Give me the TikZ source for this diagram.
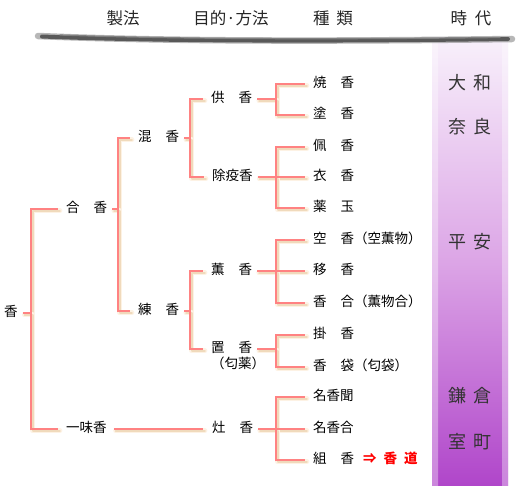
\documentclass[tikz,border=0pt]{standalone}
\usepackage{fontspec}
\newfontfamily\jp{Noto Sans CJK JP}
\usetikzlibrary{calc}
\definecolor{pinkline}{RGB}{255,130,130}
\definecolor{shadowA}{RGB}{253,242,228}
\definecolor{shadowB}{RGB}{240,218,188}
\definecolor{bandtop}{RGB}{248,240,251}
\definecolor{bandmid}{RGB}{220,165,230}
\definecolor{bandbot}{RGB}{176,70,202}
\newcommand\gp{\hspace{14pt}}
\newcommand\branch[4]{\draw[#1] ([xshift=5pt]#2.east) -- (#2.east -| #3) |- ([xshift=-8pt]#4.west);}
\newcommand\alltree[1]{%
  \branch{#1}{root}{b0}{gk}
  \branch{#1}{root}{b0}{ichimi}
  \branch{#1}{gk}{b1}{konko}
  \branch{#1}{gk}{b1}{renko}
  \branch{#1}{konko}{b2}{kuko}
  \branch{#1}{konko}{b2}{joeki}
  \branch{#1}{renko}{b2}{kunko}
  \branch{#1}{renko}{b2}{okiko}
  \draw[#1] ([xshift=7pt]ichimi.east) -- ([xshift=-9pt]shako.west);
  \branch{#1}{kuko}{b3}{shoko}
  \branch{#1}{kuko}{b3}{zuko}
  \branch{#1}{joeki}{b3}{haiko}
  \branch{#1}{joeki}{b3}{eko}
  \branch{#1}{joeki}{b3}{kusu}
  \branch{#1}{kunko}{b3}{soraka}
  \branch{#1}{kunko}{b3}{utsuri}
  \branch{#1}{kunko}{b3}{kogo}
  \branch{#1}{okiko}{b3}{kake}
  \branch{#1}{okiko}{b3}{kobukuro}
  \branch{#1}{shako}{b3}{meikomon}
  \branch{#1}{shako}{b3}{meikogo}
  \branch{#1}{shako}{b3}{kumiko}
}
\begin{document}
\begin{tikzpicture}[x=1pt,y=-1pt,
  lbl/.style={font=\jp\fontsize{13.5}{13.5}\selectfont, anchor=west, inner xsep=0pt, inner ysep=0pt,
    text height=10pt, text depth=3pt, text=black},
  hdr/.style={font=\jp\fontsize{16.5}{16.5}\selectfont, text=black!85},
  era/.style={font=\jp\fontsize{18}{18}\selectfont, text=black!80},
  shadowline/.style={draw=shadowA, line width=5pt, line cap=round, line join=round,
    transform canvas={shift={(1.8pt,-1.8pt)}},
    postaction={draw=shadowB, line width=2pt}},
  treeline/.style={draw=pinkline, line width=1.1pt}]
\useasboundingbox (0,0) rectangle (520,495);
\fill[white] (0,0) rectangle (520,495);
% era band
\shade[top color=bandtop, bottom color=bandbot, middle color=bandmid] (432,38) rectangle (508,485);
\shade[left color=white, right color=bandbot!0, opacity=0.35] (432,38) rectangle (438,485);
\shade[left color=bandbot!0, right color=white, opacity=0.35] (502,38) rectangle (508,485);
% brush stroke
\draw[line width=6.5pt, black!40, line cap=round, opacity=0.7] (38,36) .. controls (180,42) and (360,41) .. (512,39);
\draw[line width=4pt, black!65, line cap=round] (42,36.5) .. controls (180,42) and (360,41) .. (508,39);
\draw[line width=1.2pt, black!50, line cap=round] (60,35) .. controls (200,40) and (380,39) .. (500,37.5);
% header
\node[hdr] (h1) at (123,18) {製法};
\node[hdr] (h2) at (231,18) {目的·方法};
\node[hdr] (h3) at (333,18) {種\hspace{7pt}類};
\node[hdr] (h4) at (471,18) {時\hspace{8pt}代};
% eras
\node[era] (e1) at (470,83) {大\hspace{7pt}和};
\node[era] (e2) at (470,127) {奈\hspace{7pt}良};
\node[era] (e3) at (470,242) {平\hspace{7pt}安};
\node[era] (e4) at (470,396) {鎌\hspace{7pt}倉};
\node[era] (e5) at (470,442) {室\hspace{7pt}町};
% bus coordinates
\coordinate (b0) at (31,0);
\coordinate (b1) at (118,0);
\coordinate (b2) at (190,0);
\coordinate (b3) at (276,0);
% nodes
\node[lbl] (root) at (4,313) {香};
\node[lbl] (gk) at (66,209) {合\gp 香};
\node[lbl] (ichimi) at (66,429) {一味香};
\node[lbl] (konko) at (138,138) {混\gp 香};
\node[lbl] (renko) at (138,311) {練\gp 香};
\node[lbl] (kuko) at (211,99) {供\gp 香};
\node[lbl] (joeki) at (212,177) {除疫香};
\node[lbl] (kunko) at (211,271) {薫\gp 香};
\node[lbl] (okiko) at (211,349) {置\gp 香};
\node[lbl, anchor=center] (okinote) at (238,365) {（匂薬）};
\node[lbl] (shako) at (212,429) {灶\gp 香};
\node[lbl] (shoko) at (313,84) {焼\gp 香};
\node[lbl] (zuko) at (313,115) {塗\gp 香};
\node[lbl] (haiko) at (313,147) {佩\gp 香};
\node[lbl] (eko) at (313,177) {衣\gp 香};
\node[lbl] (kusu) at (313,208) {薬\gp 玉};
\node[lbl] (soraka) at (313,240) {空\gp 香（空薫物）};
\node[lbl] (utsuri) at (313,271) {移\gp 香};
\node[lbl] (kogo) at (313,303) {香\gp 合（薫物合）};
\node[lbl] (kake) at (313,335) {掛\gp 香};
\node[lbl] (kobukuro) at (313,367) {香\gp 袋（匂袋）};
\node[lbl] (meikomon) at (313,397) {名香聞};
\node[lbl] (meikogo) at (313,429) {名香合};
\node[lbl] (kumiko) at (313,460) {組\gp 香};
\node[lbl, text=red, font=\jp\bfseries\fontsize{13.5}{13.5}\selectfont] (kodo) at (363,460) {⇒\hspace{7pt}香\hspace{7pt}道};
% connectors
\alltree{shadowline}
\alltree{treeline}
\end{tikzpicture}
\end{document}
